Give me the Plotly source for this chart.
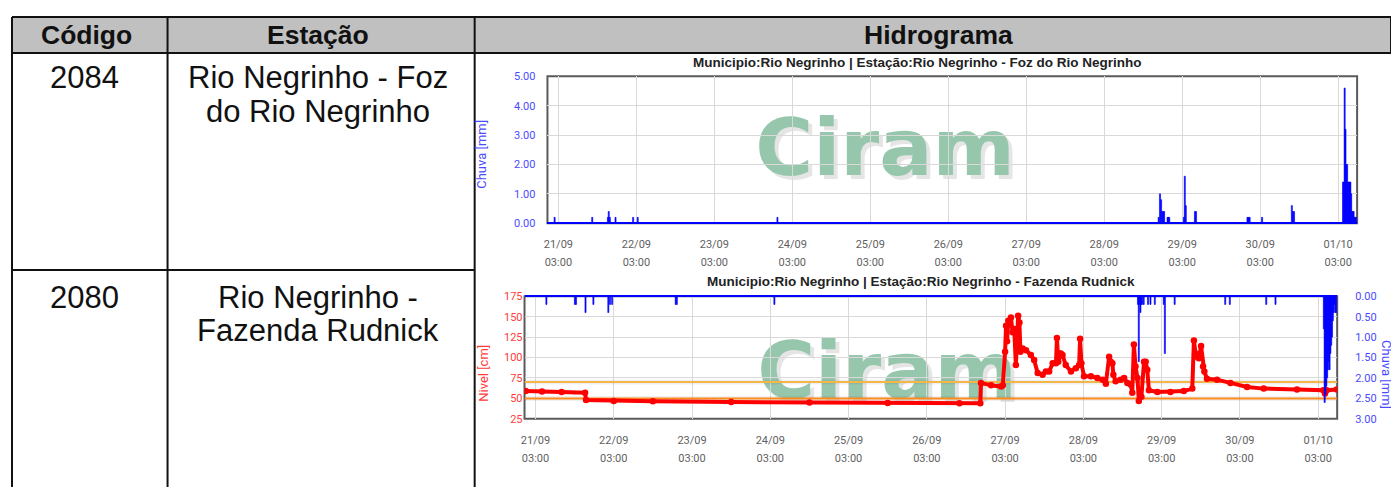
import plotly.graph_objects as go

# The page body adds an 8px margin, so the figure is drawn 8px in from the corner.
OX, OY = 8, 8
W, H = 1391, 486

# ---------------- table content ----------------
col_headers = ["Código", "Estação", "Hidrograma"]
codes = ["2084", "2080"]
station_lines = [["Rio Negrinho - Foz", "do Rio Negrinho"],
                 ["Rio Negrinho -", "Fazenda Rudnick"]]
chart_titles = ["Municipio:Rio Negrinho | Estação:Rio Negrinho - Foz do Rio Negrinho",
                "Municipio:Rio Negrinho | Estação:Rio Negrinho - Fazenda Rudnick"]
watermark = "Ciram"

# ---------------- time axis ----------------
x_start = "2024-09-20 23:38"
x_end = "2024-10-01 08:50"
tick0 = "2024-09-21 03:00"
DAY_MS = 86400000

# ---------------- chart 1: rain (Foz do Rio Negrinho) ----------------
rain1_times = [
    "2024-09-21 01:50", "2024-09-21 13:25", "2024-09-21 18:15", "2024-09-21 18:30",
    "2024-09-21 18:50", "2024-09-21 20:35", "2024-09-22 02:00", "2024-09-22 03:25",
    "2024-09-23 22:25",
    "2024-09-28 19:45", "2024-09-28 20:10", "2024-09-28 20:30", "2024-09-28 20:50",
    "2024-09-28 21:10", "2024-09-28 21:25", "2024-09-28 22:30", "2024-09-28 22:45",
    "2024-09-28 23:00",
    "2024-09-29 03:30", "2024-09-29 03:48", "2024-09-29 04:06", "2024-09-29 06:55",
    "2024-09-29 07:15", "2024-09-29 23:05", "2024-09-29 23:25", "2024-09-29 23:45",
    "2024-09-30 03:35", "2024-09-30 12:45", "2024-09-30 13:05", "2024-09-30 13:25",
    "2024-10-01 04:30", "2024-10-01 04:45", "2024-10-01 05:00", "2024-10-01 05:15",
    "2024-10-01 05:30", "2024-10-01 05:45", "2024-10-01 06:00", "2024-10-01 06:15",
    "2024-10-01 06:30", "2024-10-01 06:45", "2024-10-01 07:00", "2024-10-01 07:15",
    "2024-10-01 07:30", "2024-10-01 07:45", "2024-10-01 08:00", "2024-10-01 08:15",
    "2024-10-01 08:30",
]
rain1_mm = [
    0.2, 0.2, 0.2, 0.4,
    0.2, 0.2, 0.2, 0.2,
    0.2,
    0.2, 1.0, 0.8, 0.4,
    0.4, 0.4, 0.2, 0.2,
    0.2,
    0.2, 1.6, 0.6, 0.4,
    0.4, 0.2, 0.2, 0.2,
    0.2, 0.6, 0.4, 0.4,
    1.4, 1.4, 4.6, 3.2,
    2.0, 2.0, 1.4, 1.4,
    1.4, 1.4, 1.0, 0.4,
    0.4, 0.4, 0.2, 0.2,
    0.2,
]

# ---------------- chart 2: level + rain (Fazenda Rudnick) ----------------
rain2_times = [
    "2024-09-21 06:20", "2024-09-21 15:05", "2024-09-21 15:25", "2024-09-21 18:20",
    "2024-09-21 20:45", "2024-09-22 01:20", "2024-09-22 01:50", "2024-09-22 02:30",
    "2024-09-22 22:00", "2024-09-22 22:20", "2024-09-24 04:15",
    "2024-09-28 19:45", "2024-09-28 20:00", "2024-09-28 20:15", "2024-09-28 20:30",
    "2024-09-28 20:45", "2024-09-28 21:00", "2024-09-28 21:30", "2024-09-28 22:50",
    "2024-09-28 23:35", "2024-09-29 00:55", "2024-09-29 03:40", "2024-09-29 04:00",
    "2024-09-29 07:00", "2024-09-29 22:30", "2024-09-29 23:55", "2024-09-30 11:05",
    "2024-09-30 13:55",
    "2024-10-01 04:45", "2024-10-01 05:00", "2024-10-01 05:15", "2024-10-01 05:30",
    "2024-10-01 05:45", "2024-10-01 06:00", "2024-10-01 06:15", "2024-10-01 06:30",
    "2024-10-01 06:45", "2024-10-01 07:00", "2024-10-01 07:15", "2024-10-01 07:30",
    "2024-10-01 07:45", "2024-10-01 08:00", "2024-10-01 08:15", "2024-10-01 08:30",
]
rain2_mm = [
    0.2, 0.2, 0.2, 0.4,
    0.2, 0.4, 0.2, 0.2,
    0.2, 0.2, 0.2,
    0.2, 1.6, 0.2, 0.4,
    0.2, 0.2, 0.2, 0.2,
    0.2, 0.2, 0.2, 1.4,
    0.2, 0.2, 0.2, 0.2,
    0.2,
    0.8, 2.6, 2.4, 2.2,
    2.0, 1.8, 1.6, 1.8,
    1.4, 1.2, 1.0, 0.6,
    0.4, 0.2, 0.4, 0.4,
]

level_times = [
    "2024-09-21 00:00", "2024-09-21 05:00", "2024-09-21 11:00", "2024-09-21 18:12",
    "2024-09-21 18:30", "2024-09-22 03:00", "2024-09-22 15:00", "2024-09-23 15:00",
    "2024-09-24 15:00", "2024-09-25 15:00", "2024-09-26 13:00", "2024-09-26 19:24",
    "2024-09-26 19:36", "2024-09-26 22:42", "2024-09-27 01:48", "2024-09-27 02:18",
    "2024-09-27 03:00", "2024-09-27 03:18", "2024-09-27 03:36", "2024-09-27 04:00",
    "2024-09-27 04:48", "2024-09-27 05:18", "2024-09-27 05:48", "2024-09-27 06:18",
    "2024-09-27 07:00", "2024-09-27 07:24", "2024-09-27 07:42", "2024-09-27 08:24",
    "2024-09-27 09:24", "2024-09-27 10:54", "2024-09-27 11:54", "2024-09-27 13:00",
    "2024-09-27 14:30", "2024-09-27 15:30", "2024-09-27 16:30", "2024-09-27 17:36",
    "2024-09-27 18:36", "2024-09-27 18:54", "2024-09-27 19:18", "2024-09-27 20:06",
    "2024-09-27 20:36", "2024-09-27 21:36", "2024-09-27 23:12", "2024-09-28 00:42",
    "2024-09-28 01:42", "2024-09-28 02:00", "2024-09-28 02:24", "2024-09-28 03:12",
    "2024-09-28 05:18", "2024-09-28 07:18", "2024-09-28 08:54", "2024-09-28 09:54",
    "2024-09-28 10:54", "2024-09-28 11:24", "2024-09-28 11:54", "2024-09-28 12:12",
    "2024-09-28 12:54", "2024-09-28 14:24", "2024-09-28 15:30", "2024-09-28 16:30",
    "2024-09-28 17:30", "2024-09-28 18:00", "2024-09-28 18:30", "2024-09-28 19:00",
    "2024-09-28 19:36", "2024-09-28 20:00", "2024-09-28 20:48", "2024-09-28 21:36",
    "2024-09-28 22:06", "2024-09-28 22:36", "2024-09-28 23:06", "2024-09-29 01:42",
    "2024-09-29 05:42", "2024-09-29 09:48", "2024-09-29 12:24", "2024-09-29 12:54",
    "2024-09-29 13:24", "2024-09-29 13:54", "2024-09-29 14:24", "2024-09-29 15:06",
    "2024-09-29 15:42", "2024-09-29 16:06", "2024-09-29 16:54", "2024-09-29 20:00",
    "2024-09-30 00:06", "2024-09-30 05:12", "2024-09-30 10:18", "2024-09-30 20:30",
    "2024-10-01 04:36", "2024-10-01 05:06", "2024-10-01 05:36", "2024-10-01 08:45",
]
level_cm = [
    59, 58.5, 58, 57,
    48, 47, 46.5, 45.5,
    45, 44.5, 44, 44,
    69, 66, 64.5, 66,
    107, 139, 120, 145,
    149, 131, 135, 91,
    151, 143, 107, 111,
    109, 103, 97, 81,
    79, 83, 83, 93,
    93, 124, 95, 105,
    103, 91, 83, 87,
    91, 123, 93, 77,
    77, 75, 73, 68,
    101, 95, 93, 79,
    71, 73, 75, 69,
    67, 57, 116, 89,
    75, 47, 52, 95,
    95, 85, 60, 58,
    58, 59, 62, 121,
    105, 101, 99, 114,
    89, 83, 74, 73,
    69, 64, 62, 61,
    60, 56, 60, 61,
]
level_thresholds_cm = [70, 50]
threshold_colors = ["#f3b64a", "#fb8a1e"]


# ---------------- helpers for layout positions (window pixels -> paper) ----------------
def px(x):
    return (x - OX) / W


def py(y):
    return 1 - (y - OY) / H


BLUE = "#0000ff"
BLUE_TXT = "#4a4aff"
RED_TXT = "#ff3b3b"
GRID = "#d9d9d9"
BORDER = "#5a5a5a"
TICK_GREY = "#5f5f5f"
WM_GREEN = "#96c7ad"

fig = go.Figure()

# chart 1 rain bars
fig.add_trace(go.Bar(x=rain1_times, y=rain1_mm, xaxis="x", yaxis="y",
                     width=20 * 60 * 1000, marker=dict(color=BLUE, line=dict(color=BLUE, width=0.6)),
                     showlegend=False, hoverinfo="skip"))
# invisible helper that registers the time-of-day overlay axis of chart 1
fig.add_trace(go.Scatter(x=rain1_times, y=rain1_mm, xaxis="x3", yaxis="y", mode="markers",
                         marker=dict(opacity=0), showlegend=False, hoverinfo="skip"))

# chart 2 level thresholds (drawn as traces so they sit above the gridlines)
for thr, col in zip(level_thresholds_cm, threshold_colors):
    fig.add_trace(go.Scatter(x=[x_start, x_end], y=[thr, thr], xaxis="x2", yaxis="y2", mode="lines",
                             line=dict(color="rgba(0,0,0,0.06)", width=5),
                             showlegend=False, hoverinfo="skip"))
    fig.add_trace(go.Scatter(x=[x_start, x_end], y=[thr, thr], xaxis="x2", yaxis="y2", mode="lines",
                             line=dict(color=col, width=2), showlegend=False, hoverinfo="skip"))

# chart 2 level
fig.add_trace(go.Scatter(x=level_times, y=level_cm, xaxis="x2", yaxis="y2", mode="lines+markers",
                         line=dict(color="#ff0000", width=4), marker=dict(color="#ff0000", size=6.5),
                         showlegend=False, hoverinfo="skip"))
# chart 2 rain bars (reversed right axis)
fig.add_trace(go.Bar(x=rain2_times, y=rain2_mm, xaxis="x2", yaxis="y3",
                     width=20 * 60 * 1000, marker=dict(color=BLUE, line=dict(color=BLUE, width=0.6)),
                     showlegend=False, hoverinfo="skip"))
fig.add_trace(go.Scatter(x=level_times, y=level_cm, xaxis="x4", yaxis="y2", mode="markers",
                         marker=dict(opacity=0), showlegend=False, hoverinfo="skip"))

tickfont_x = dict(family="Roboto", size=11, color=TICK_GREY)


def date_axis(domain, anchor, fmt, standoff, overlay=None, grid=True):
    d = dict(domain=domain, anchor=anchor, type="date", range=[x_start, x_end],
             tick0=tick0, dtick=DAY_MS, tickformat=fmt, ticks="",
             showgrid=grid, gridcolor=GRID, gridwidth=1, zeroline=False, showline=False,
             tickfont=tickfont_x, ticklabelstandoff=standoff, fixedrange=True)
    if overlay:
        d["overlaying"] = overlay
    return d


c1_dom_x = [px(545), px(1357)]
c1_dom_y = [py(223), py(72)]
c2_dom_x = [px(522), px(1337)]
c2_dom_y = [py(424), py(298)]

fig.update_layout(
    width=W, height=H, margin=dict(l=0, r=0, t=0, b=0),
    paper_bgcolor="white", plot_bgcolor="white", barmode="overlay",
    xaxis=date_axis(c1_dom_x, "y", "%d/%m", 13),
    xaxis3=date_axis(c1_dom_x, "y", "%H:%M", 31, overlay="x", grid=False),
    xaxis2=date_axis(c2_dom_x, "y2", "%d/%m", 13),
    xaxis4=date_axis(c2_dom_x, "y2", "%H:%M", 31, overlay="x2", grid=False),
    yaxis=dict(domain=c1_dom_y, anchor="x", range=[0, 5], dtick=1, tickformat=".2f",
               ticks="", showgrid=True, gridcolor=GRID, showline=False,
               zeroline=True, zerolinecolor=BLUE, zerolinewidth=2,
               tickfont=dict(family="Roboto", size=11, color=BLUE_TXT), ticklabelstandoff=11,
               fixedrange=True),
    yaxis2=dict(domain=c2_dom_y, anchor="x2", range=[25, 175], dtick=25,
                ticks="", showgrid=True, gridcolor=GRID, showline=False, zeroline=False,
                tickfont=dict(family="Roboto", size=11, color=RED_TXT), ticklabelstandoff=1,
                fixedrange=True),
    yaxis3=dict(overlaying="y2", anchor="x2", side="right", range=[3, 0], dtick=0.5,
                tickformat=".2f", ticks="", showgrid=False, showline=False,
                zeroline=True, zerolinecolor=BLUE, zerolinewidth=2,
                tickfont=dict(family="Roboto", size=11, color=BLUE_TXT), ticklabelstandoff=17,
                fixedrange=True),
)

shapes = []
annotations = []

# ---- table ----
TABLE_FONT = "Liberation Sans"
shapes.append(dict(type="rect", xref="paper", yref="paper", x0=px(8), x1=px(1391), y0=py(48), y1=py(11),
                   fillcolor="#c0c0c0", line=dict(width=0), layer="below"))
line_specs = [
    (8, 11, 1391, 11), (8, 48, 1391, 48),
    (8, 11, 8, 494), (164, 11, 164, 494), (472, 11, 472, 494), (1391, 11, 1391, 48),
    (8, 271, 472, 271),
]
for x0, y0, x1, y1 in line_specs:
    shapes.append(dict(type="line", xref="paper", yref="paper", x0=px(x0), y0=py(y0), x1=px(x1), y1=py(y1),
                       line=dict(color="#111111", width=2), layer="above"))

header_x = [83, 315, 937]
for text, hx in zip(col_headers, header_x):
    annotations.append(dict(text=f"<b>{text}</b>", x=px(hx), y=py(30), xref="paper", yref="paper",
                            showarrow=False, xanchor="center", yanchor="middle",
                            font=dict(family=TABLE_FONT, size=26.5, color="#111111")))

LINE_GAP = 34.7
row_top = [73, 299]
for code, lines, ry in zip(codes, station_lines, row_top):
    annotations.append(dict(text=code, x=px(81), y=py(ry), xref="paper", yref="paper", showarrow=False,
                            xanchor="center", yanchor="middle",
                            font=dict(family=TABLE_FONT, size=31, color="#111111")))
    for i, ln in enumerate(lines):
        annotations.append(dict(text=ln, x=px(315), y=py(ry + LINE_GAP * i), xref="paper", yref="paper",
                                showarrow=False, xanchor="center", yanchor="middle",
                                font=dict(family=TABLE_FONT, size=31, color="#111111")))

# ---- chart titles ----
for title, (tx, ty) in zip(chart_titles, [(916, 58), (920, 283)]):
    annotations.append(dict(text=f"<b>{title}</b>", x=px(tx), y=py(ty), xref="paper", yref="paper",
                            showarrow=False, xanchor="center", yanchor="middle",
                            font=dict(family="Liberation Sans", size=13.5, color="#222222")))

# ---- axis titles ----
annotations.append(dict(text="Chuva [mm]", x=px(479), y=py(152), xref="paper", yref="paper", showarrow=False,
                        textangle=-90, xanchor="center", yanchor="middle",
                        font=dict(family="Roboto", size=13, color=BLUE_TXT)))
annotations.append(dict(text="Nivel [cm]", x=px(480), y=py(377), xref="paper", yref="paper", showarrow=False,
                        textangle=-90, xanchor="center", yanchor="middle",
                        font=dict(family="Roboto", size=13, color=RED_TXT)))
annotations.append(dict(text="Chuva [mm]", x=px(1387), y=py(378), xref="paper", yref="paper", showarrow=False,
                        textangle=90, xanchor="center", yanchor="middle",
                        font=dict(family="Roboto", size=13, color=BLUE_TXT)))

# ---- plot borders ----
for xr, yr in [("x", "y"), ("x2", "y2")]:
    shapes.append(dict(type="rect", xref=f"{xr} domain", yref=f"{yr} domain", x0=0, x1=1, y0=0, y1=1,
                       line=dict(color=BORDER, width=2), fillcolor="rgba(0,0,0,0)", layer="below"))

# ---- watermarks ----
for xr, yr, cx, cy, hpx in [("x", "y", 0.417, 0.55, 151), ("x2", "y2", 0.446, 0.44, 126)]:
    ddx = 4 / 812
    ddy = 4 / hpx
    for color, ox, oy in [("rgba(0,0,0,0.10)", ddx, -ddy), (WM_GREEN, 0, 0)]:
        shapes.append(dict(type="rect", xref=f"{xr} domain", yref=f"{yr} domain",
                           x0=cx - 0.2 + ox, x1=cx + 0.2 + ox, y0=cy - 0.4 + oy, y1=cy + 0.4 + oy,
                           line=dict(width=0), fillcolor="rgba(0,0,0,0)", layer="below",
                           label=dict(text=watermark, textposition="middle center",
                                      font=dict(family="DejaVu Sans", size=79, color=color, weight="bold"))))

fig.update_layout(shapes=shapes, annotations=annotations)
fig.write_html("out.html")
